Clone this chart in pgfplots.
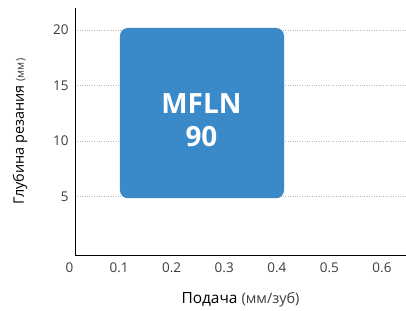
\documentclass[border=0pt]{standalone}
\usepackage{fontspec}
\setmainfont{Open Sans}
\usepackage{pgfplots}
\pgfplotsset{compat=1.18}
\definecolor{boxblue}{RGB}{58,138,201}
\definecolor{gridgray}{RGB}{185,185,185}
\definecolor{txt}{RGB}{60,60,60}
\begin{document}
\begin{tikzpicture}
\begin{axis}[
  scale only axis,
  width=331bp, height=247bp,
  xmin=0.0105, xmax=0.64,
  ymin=-0.27, ymax=22,
  axis x line*=bottom, axis y line*=left,
  axis line style={black, line width=0.8bp, -},
  xtick={0.1,0.2,0.3,0.4,0.5,0.6},
  xticklabels={0.1,0.2,0.3,0.4,0.5,0.6},
  ytick={5,10,15,20},
  major tick length=0pt,
  tick style={draw=none},
  ymajorgrids,
  grid style={gridgray, dotted, line width=1bp},
  /pgf/number format/assume math mode=true,
  ticklabel style={font=\fontsize{13.5}{15}\selectfont, text=txt},
  xticklabel style={yshift=-4bp, xshift=-3bp},
  yticklabel style={xshift=-3bp},
  clip=false,
  xlabel={\fontsize{15.5}{17}\selectfont Подача {\fontsize{14.5}{16}\selectfont\color{txt}(мм/зуб)}},
  ylabel={\fontsize{14.5}{16}\selectfont Глубина резания {\fontsize{11}{14}\selectfont\color{txt}(мм)}},
  xlabel style={at={(axis description cs:0.5,0)}, anchor=center, yshift=-45bp},
  ylabel style={at={(axis description cs:0,0.5)}, anchor=center, yshift=55bp},
]
\addplot[fill=boxblue, draw=none, rounded corners=8bp] coordinates {(0.096,4.85) (0.408,4.85) (0.408,20.2) (0.096,20.2)} -- cycle;
\node[text=white, font=\fontsize{28}{33}\selectfont\bfseries, align=center] at (axis cs:0.251,11.85) {MFLN\\90};
\node[font=\fontsize{13.5}{15}\selectfont, text=txt, anchor=north] at (axis cs:0,-0.27) [yshift=-4bp] {0};
\end{axis}
\pgfresetboundingbox
\path (-75bp,-56bp) rectangle (331bp,255bp);
\end{tikzpicture}
\end{document}
